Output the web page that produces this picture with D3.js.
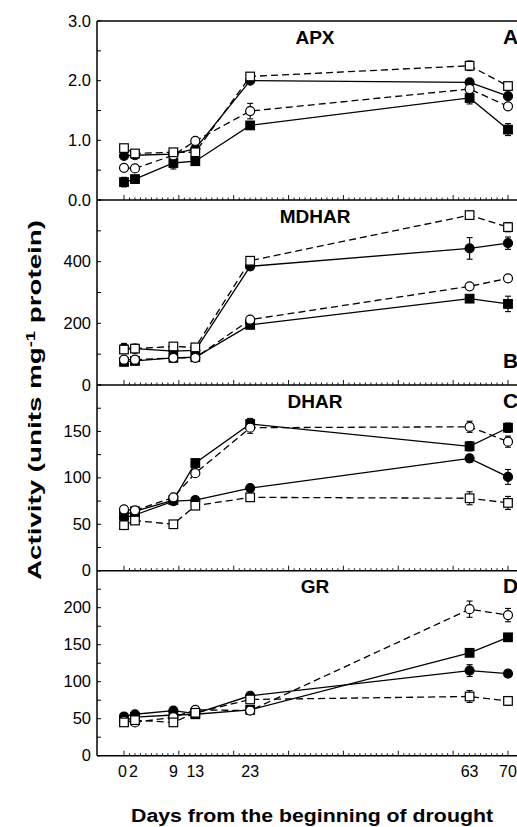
<!DOCTYPE html>
<html><head><meta charset="utf-8">
<script src="https://cdn.jsdelivr.net/npm/d3@7"></script>
<style>
html,body{margin:0;padding:0;background:#fff;}
svg{display:block;font-family:"Liberation Sans",Arial,sans-serif;}
</style></head>
<body><svg id="c" width="517" height="827"></svg>
<script>
// ---- data ----
const days = [0, 2, 9, 13, 23, 63, 70];
const dayLabels = ["0", "2", "9", "13", "23", "63", "70"];

const apxFilledCircle = [0.74, 0.75, 0.77, 0.86, 2.00, 1.97, 1.74];
const apxFilledSquare = [0.30, 0.35, 0.62, 0.65, 1.25, 1.71, 1.18];
const apxOpenCircle   = [0.54, 0.53, 0.75, 0.99, 1.49, 1.86, 1.57];
const apxOpenSquare   = [0.87, 0.78, 0.80, 0.80, 2.07, 2.25, 1.91];
const apxErrFC = [0.04, 0.03, 0.03, 0.04, 0.04, 0.05, 0.06];
const apxErrFS = [0.08, 0.04, 0.10, 0.05, 0.04, 0.10, 0.10];
const apxErrOC = [0.03, 0.03, 0.03, 0.03, 0.13, 0.05, 0.04];
const apxErrOS = [0.05, 0.04, 0.04, 0.04, 0.04, 0.08, 0.06];

const mdharFilledCircle = [120, 118, 110, 112, 385, 443, 460];
const mdharFilledSquare = [75, 78, 88, 90, 195, 280, 263];
const mdharOpenCircle   = [82, 82, 88, 88, 212, 320, 346];
const mdharOpenSquare   = [115, 118, 125, 122, 403, 551, 512];
const mdharErrFC = [15, 14, 8, 8, 10, 35, 20];
const mdharErrFS = [8, 6, 8, 6, 6, 8, 25];
const mdharErrOC = [5, 5, 12, 5, 5, 5, 5];
const mdharErrOS = [8, 8, 8, 8, 8, 12, 15];

const dharFilledCircle = [57, 60, 75, 76, 89, 121, 101];
const dharFilledSquare = [60, 64, 76, 116, 158, 134, 154];
const dharOpenCircle   = [66, 65, 79, 105, 154, 155, 139];
const dharOpenSquare   = [49, 54, 50, 70, 79, 78, 73];
const dharErrFC = [3, 3, 3, 3, 3, 4, 8];
const dharErrFS = [3, 3, 3, 4, 6, 5, 5];
const dharErrOC = [3, 3, 3, 3, 6, 6, 6];
const dharErrOS = [3, 3, 2, 3, 3, 7, 7];

const grFilledCircle = [53, 56, 61, 57, 81, 115, 111];
const grFilledSquare = [47, 52, 55, 56, 62, 139, 160];
const grOpenCircle   = [47, 45, 52, 62, 61, 198, 190];
const grOpenSquare   = [45, 48, 45, 58, 76, 80, 74];
const grErrFC = [3, 3, 3, 3, 3, 8, 4];
const grErrFS = [3, 3, 3, 3, 3, 4, 5];
const grErrOC = [3, 3, 3, 3, 3, 11, 9];
const grErrOS = [3, 3, 3, 3, 3, 8, 6];

const panelTitles = ["APX", "MDHAR", "DHAR", "GR"];
const panelLetters = ["A", "B", "C", "D"];
const yMax = [3, 600, 200, 250];
const yTickStep = [0.5, 100, 25, 25];
const yLabelTicks = [[0, 1, 2, 3], [0, 200, 400], [0, 50, 100, 150], [0, 50, 100, 150, 200]];
const yLabelFormat = [d3.format(".1f"), d3.format("d"), d3.format("d"), d3.format("d")];

// ---- layout ----
const svg = d3.select("#c");
const left = 97, right = 528;
const panelTops = [21, 200, 385, 570.7];
const panelBottoms = [200, 385, 570.7, 755.7];
const x = d3.scaleLinear().domain([0, 70]).range([124, 508]);

const panelsData = [
  [[apxFilledCircle, apxErrFC], [apxFilledSquare, apxErrFS], [apxOpenCircle, apxErrOC], [apxOpenSquare, apxErrOS]],
  [[mdharFilledCircle, mdharErrFC], [mdharFilledSquare, mdharErrFS], [mdharOpenCircle, mdharErrOC], [mdharOpenSquare, mdharErrOS]],
  [[dharFilledCircle, dharErrFC], [dharFilledSquare, dharErrFS], [dharOpenCircle, dharErrOC], [dharOpenSquare, dharErrOS]],
  [[grFilledCircle, grErrFC], [grFilledSquare, grErrFS], [grOpenCircle, grErrOC], [grOpenSquare, grErrOS]]
];
const styles = [
  {shape: "circle", fill: "#000", dash: null},
  {shape: "square", fill: "#000", dash: null},
  {shape: "circle", fill: "#fff", dash: "7,4"},
  {shape: "square", fill: "#fff", dash: "7,4"}
];

// frame: top line and left line
svg.append("line").attr("x1", left).attr("x2", right).attr("y1", 21).attr("y2", 21)
  .attr("stroke", "#000").attr("stroke-width", 1.5);
svg.append("line").attr("x1", left).attr("x2", left).attr("y1", 21).attr("y2", 755.7)
  .attr("stroke", "#000").attr("stroke-width", 1.5);

panelsData.forEach((series, p) => {
  const y = d3.scaleLinear().domain([0, yMax[p]]).range([panelBottoms[p], panelTops[p]]);
  const g = svg.append("g");

  // bottom line
  g.append("line").attr("x1", left).attr("x2", right).attr("y1", y(0)).attr("y2", y(0))
    .attr("stroke", "#000").attr("stroke-width", 1.5);

  // x ticks (inward, up)
  const xMinor = d3.range(0, 71, 1);
  g.selectAll(".xt").data(xMinor).enter().append("line")
    .attr("x1", d => x(d)).attr("x2", d => x(d))
    .attr("y1", y(0)).attr("y2", d => y(0) - (d % 10 === 0 ? 5 : 2.5))
    .attr("stroke", "#000").attr("stroke-width", 0.9);

  // y ticks (inward)
  const yT = d3.range(0, yMax[p] + 1e-9, yTickStep[p]);
  g.selectAll(".yt").data(yT).enter().append("line")
    .attr("x1", left).attr("x2", left + 4)
    .attr("y1", d => y(d)).attr("y2", d => y(d))
    .attr("stroke", "#000").attr("stroke-width", 1);

  // y labels
  g.selectAll(".yl").data(yLabelTicks[p]).enter().append("text")
    .attr("x", 91).attr("y", d => y(d) + 5.5)
    .attr("text-anchor", "end").attr("font-size", 16.5)
    .text(d => yLabelFormat[p](d));

  // title
  g.append("text").attr("x", 315).attr("y", panelTops[p] + 22.5)
    .attr("text-anchor", "middle").attr("font-size", 19).attr("font-weight", "bold")
    .text(panelTitles[p]);
  // letter
  g.append("text").attr("x", 503).attr("y", p === 1 ? 368 : panelTops[p] + 22.5)
    .attr("font-size", 21).attr("font-weight", "bold")
    .text(panelLetters[p]);

  // series
  series.forEach(([vals, errs], s) => {
    const st = styles[s];
    const pts = days.map((d, i) => ({d, v: vals[i], e: errs[i]}));
    g.append("path").datum(pts)
      .attr("fill", "none").attr("stroke", "#000").attr("stroke-width", 1.3)
      .attr("stroke-dasharray", st.dash)
      .attr("d", d3.line().x(q => x(q.d)).y(q => y(q.v)));
    // error bars
    const eg = g.append("g").attr("stroke", "#000").attr("stroke-width", 1.1);
    pts.forEach(q => {
      eg.append("line").attr("x1", x(q.d)).attr("x2", x(q.d)).attr("y1", y(q.v - q.e)).attr("y2", y(q.v + q.e));
      eg.append("line").attr("x1", x(q.d) - 3).attr("x2", x(q.d) + 3).attr("y1", y(q.v - q.e)).attr("y2", y(q.v - q.e));
      eg.append("line").attr("x1", x(q.d) - 3).attr("x2", x(q.d) + 3).attr("y1", y(q.v + q.e)).attr("y2", y(q.v + q.e));
    });
    // markers
    if (st.shape === "circle") {
      g.selectAll(null).data(pts).enter().append("circle")
        .attr("cx", q => x(q.d)).attr("cy", q => y(q.v)).attr("r", 4.5)
        .attr("fill", st.fill).attr("stroke", "#000").attr("stroke-width", 1.2);
    } else {
      g.selectAll(null).data(pts).enter().append("rect")
        .attr("x", q => x(q.d) - 4.3).attr("y", q => y(q.v) - 4.3)
        .attr("width", 8.6).attr("height", 8.6)
        .attr("fill", st.fill).attr("stroke", "#000").attr("stroke-width", 1.2);
    }
  });

  // x labels on bottom panel
  if (p === 3) {
    g.selectAll(".xl").data(days).enter().append("text")
      .attr("x", (d, i) => x(d) - (i < 2 ? 1.5 : 0)).attr("y", 776.5)
      .attr("text-anchor", "middle").attr("font-size", 16)
      .text((d, i) => dayLabels[i]);
  }
});

// axis titles
svg.append("text").attr("x", 312).attr("y", 822)
  .attr("text-anchor", "middle").attr("font-size", 18).attr("font-weight", "bold")
  .attr("textLength", 362).attr("lengthAdjust", "spacingAndGlyphs")
  .text("Days from the beginning of drought");

const yt = svg.append("text").attr("transform", "translate(41,400) rotate(-90)")
  .attr("text-anchor", "middle").attr("font-size", 18).attr("font-weight", "bold")
  .attr("textLength", 360).attr("lengthAdjust", "spacingAndGlyphs");
yt.append("tspan").text("Activity (units mg");
yt.append("tspan").attr("dy", -6).attr("font-size", 12).text("-1");
yt.append("tspan").attr("dy", 6).text(" protein)");
</script></body></html>
